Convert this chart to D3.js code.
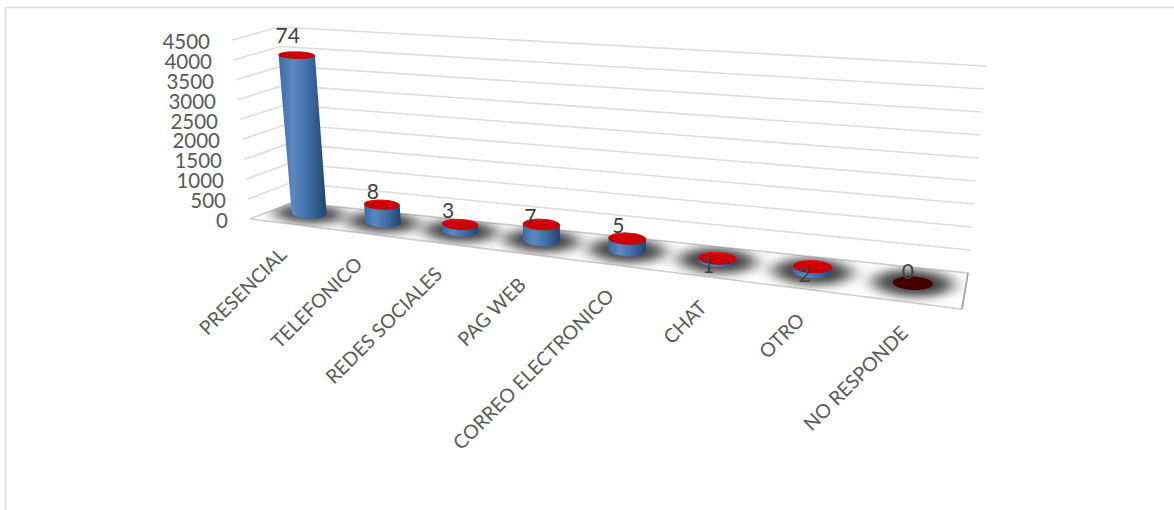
<!DOCTYPE html>
<html>
<head>
<meta charset="utf-8">
<script src="https://cdn.jsdelivr.net/npm/d3@7"></script>
<style>
  html, body { margin: 0; padding: 0; background: #fff; }
  svg { display: block; }
  text { font-family: Lato, "Open Sans", sans-serif; }
</style>
</head>
<body>
<div id="chart"></div>
<script>
// Contact channels and the share reported for each one
const categories = ["PRESENCIAL", "TELEFONICO", "REDES SOCIALES", "PAG WEB", "CORREO ELECTRONICO", "CHAT", "OTRO", "NO RESPONDE"];
const shares = [74, 8, 3, 7, 5, 1, 2, 0];
const axisMax = 4500;
const axisStep = 500;
const unitsPerShare = 54;   // axis units represented by one point of share

// Hand-placed label nudges, relative to the centre of each cap
const labelNudgeX = [-9, -9, -12, -11, -9, -9, -8, -5];
const labelNudgeY = [-21, -14, -15, -9, -14, 6, 7, -13];

const width = 1174, height = 510;

// Screen corners of the box: front-left, front-right, back-right, back-left
const floorQuad = [[250, 219], [962, 309], [968, 273], [293, 202]];
const ceilingQuad = [[232, 40], [981, 94], [986, 66], [279, 27]];

const lerp = (a, b, t) => [a[0] + (b[0] - a[0]) * t, a[1] + (b[1] - a[1]) * t];

// Foreshortening across the chart: columns spread apart towards the right
const foreshorten = 1.23;
const spread = u => u / (u + foreshorten * (1 - u));

// Position on a horizontal plane: s across (already foreshortened), depth into the box
function onPlane(q, s, depth) {
  return lerp(lerp(q[0], q[1], s), lerp(q[3], q[2], s), depth);
}

// (s across, depth, level up the axis) to screen coordinates
function project(s, depth, lev) {
  return lerp(onPlane(floorQuad, s, depth), onPlane(ceilingQuad, s, depth), lev);
}

const band = d3.scaleBand().domain(categories).range([0, 1]);
const level = d3.scaleLinear().domain([0, axisMax]).range([0, 1]);
const axisValue = s => s * unitsPerShare;
const centre = c => spread(band(c) + band.bandwidth() / 2);

const midDepth = 0.55;
const capTilt = 0.35;
const radiusS = s => 0.025 * (1 + 0.17 * s);
const radiusD = s => 0.27 - 0.08 * s;

// A circle on a horizontal plane of the box, sampled as screen points.
// The depth direction only contributes height, so the outline stays nearly upright.
function ring(s, lev, scale = 1) {
  const c = project(s, midDepth, lev);
  const across = project(s + radiusS(s) * scale, midDepth, lev);
  const deep = project(s, midDepth + radiusD(s) * scale, lev);
  const ax = across[0] - c[0], ay = (across[1] - c[1]) * capTilt, dy = deep[1] - c[1];
  return d3.range(64).map(i => {
    const t = i / 64 * 2 * Math.PI;
    return [c[0] + Math.cos(t) * ax, c[1] + Math.cos(t) * ay + Math.sin(t) * dy];
  });
}
const closed = d3.line().curve(d3.curveLinearClosed);

const svg = d3.select("#chart").append("svg").attr("width", width).attr("height", height);
const defs = svg.append("defs");

const side = defs.append("linearGradient").attr("id", "side");
[[0, "#3a6aa5"], [0.3, "#5c88c0"], [0.6, "#3f6fa9"], [1, "#204670"]].forEach(([o, c]) =>
  side.append("stop").attr("offset", o).attr("stop-color", c));

const cap = defs.append("linearGradient").attr("id", "cap").attr("x1", 0).attr("y1", 0).attr("x2", 0).attr("y2", 1);
[[0, "#f80808"], [0.22, "#d00000"], [1, "#c40000"]].forEach(([o, c]) =>
  cap.append("stop").attr("offset", o).attr("stop-color", c));

defs.append("filter").attr("id", "soft").attr("x", "-60%").attr("y", "-120%").attr("width", "220%").attr("height", "340%")
  .append("feGaussianBlur").attr("stdDeviation", "9 5");

defs.append("clipPath").attr("id", "floorClip")
  .append("path").attr("d", closed(floorQuad));

// Chart frame, open at the right and at the bottom
svg.append("path").attr("d", `M5.5,${height}V7.5H${width}`)
  .attr("fill", "none").attr("stroke", "#d9d9d9").attr("stroke-width", 1.6);

// Gridlines running along the side wall and the back wall
const ticks = d3.range(0, axisMax + 1, axisStep);
const polyline = d3.line();
svg.append("g").selectAll("path").data(ticks.filter(t => t > 0)).join("path")
  .attr("d", t => polyline([project(0, 0, level(t)), project(0, 1, level(t)), project(1, 1, level(t))]))
  .attr("fill", "none").attr("stroke", "#dcdcdc").attr("stroke-width", 1.6);

// Floor
svg.append("path").attr("d", closed(floorQuad)).attr("fill", "#fff")
  .attr("stroke", "#cfcfcf").attr("stroke-width", 1.6);
svg.append("line")
  .attr("x1", floorQuad[1][0]).attr("y1", floorQuad[1][1])
  .attr("x2", floorQuad[2][0]).attr("y2", floorQuad[2][1])
  .attr("stroke", "#a6a6a6").attr("stroke-width", 1.6);

// Soft shadows pooled under each cylinder
svg.append("g").attr("clip-path", "url(#floorClip)")
  .selectAll("path").data(categories).join("path")
  .attr("d", c => closed(ring(centre(c), 0, 2)))
  .attr("fill", "#444444").attr("filter", "url(#soft)");

// Cylinders
const bars = svg.append("g").selectAll("g").data(categories).join("g");
bars.each(function (c, i) {
  const g = d3.select(this);
  const s = centre(c);
  const lev = level(axisValue(shares[i]));
  if (lev > 0) {
    const hull = d3.polygonHull(ring(s, 0).concat(ring(s, lev)));
    g.append("path").attr("d", closed(hull)).attr("fill", "url(#side)");
  }
  g.append("path").attr("d", closed(ring(s, lev)))
    .attr("fill", lev > 0 ? "url(#cap)" : "#470000");
});

// Share labels beside each cap
const capCentre = (c, i) => project(centre(c), midDepth, level(axisValue(shares[i])));
svg.append("g").selectAll("text").data(categories).join("text")
  .attr("x", (c, i) => capCentre(c, i)[0] + labelNudgeX[i])
  .attr("y", (c, i) => capCentre(c, i)[1] + labelNudgeY[i])
  .attr("text-anchor", "middle").attr("dominant-baseline", "central")
  .attr("font-size", 21).attr("fill", "#404040")
  .text((c, i) => shares[i]);

// Value axis labels following the slanted front edge of the side wall
svg.append("g").selectAll("text").data(ticks).join("text")
  .attr("x", t => project(0, 0, level(t))[0] - 22)
  .attr("y", t => project(0, 0, level(t))[1] + 1)
  .attr("text-anchor", "end").attr("dominant-baseline", "central")
  .attr("font-size", 20.5).attr("fill", "#595959")
  .text(t => t);

// Rotated category labels under the front edge of the floor
svg.append("g").selectAll("text").data(categories).join("text")
  .attr("transform", c => {
    const p = project(centre(c), 0, 0);
    return `translate(${p[0] - 4},${p[1] + 27}) rotate(-45)`;
  })
  .attr("text-anchor", "end").attr("dominant-baseline", "central")
  .attr("font-size", 19.5).attr("fill", "#595959")
  .text(c => c);
</script>
</body>
</html>
